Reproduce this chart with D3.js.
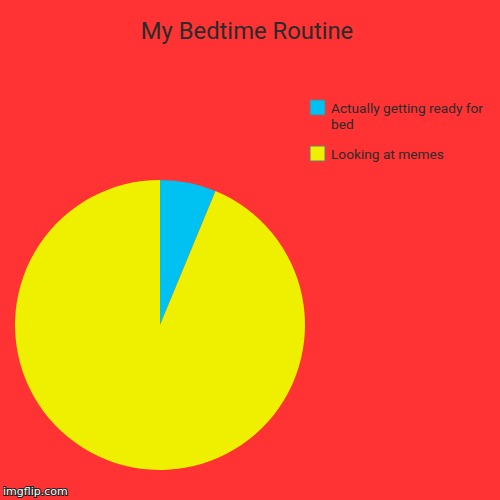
<!DOCTYPE html>
<html><head><meta charset="utf-8">
<script src="https://cdn.jsdelivr.net/npm/d3@7"></script>
<style>html,body{margin:0;padding:0;background:#ff3333;}svg{display:block;}</style>
</head><body>
<script>
const title = "My Bedtime Routine";
const categories = ["Actually getting ready for bed", "Looking at memes"];
const values = [1, 15];
const colors = ["#00c2f2", "#efef00"];
const legendLines = [["Actually getting ready for", "bed"], ["Looking at memes"]];

const W = 500, H = 500;
const svg = d3.select("body").append("svg").attr("width", W).attr("height", H);
svg.append("rect").attr("width", W).attr("height", H).attr("fill", "#ff3333");

svg.append("text").attr("x", 247).attr("y", 39).attr("text-anchor", "middle")
  .attr("font-family", "Roboto").attr("font-size", 23.8).attr("fill", "#2b2b2b").text(title);

const pie = d3.pie().sort(null).value(d => d)(values);
const arc = d3.arc().innerRadius(0).outerRadius(145);
const g = svg.append("g").attr("transform", "translate(160,325)");
g.selectAll("path").data(pie).join("path").attr("d", arc).attr("fill", (d, i) => colors[i]);

const ly = [100, 146];
const lg = svg.append("g");
categories.forEach((c, i) => {
  lg.append("rect").attr("x", 310).attr("y", ly[i]).attr("width", 15).attr("height", 15)
    .attr("fill", colors[i]).attr("stroke", "#777").attr("stroke-width", 1);
  const t = lg.append("text").attr("x", 331).attr("y", ly[i] + 12.5)
    .attr("font-family", "Roboto").attr("font-size", 13.7).attr("fill", "#2b2b2b");
  legendLines[i].forEach((l, j) => {
    t.append("tspan").attr("x", 331).attr("dy", j === 0 ? 0 : 16).text(l);
  });
});

svg.append("text").attr("x", 3).attr("y", 495).attr("font-family", "DejaVu Sans, sans-serif")
  .attr("font-size", 11).attr("fill", "#fff").attr("stroke", "#222").attr("stroke-width", 2)
  .attr("paint-order", "stroke").text("imgflip.com");
</script>
</body></html>
